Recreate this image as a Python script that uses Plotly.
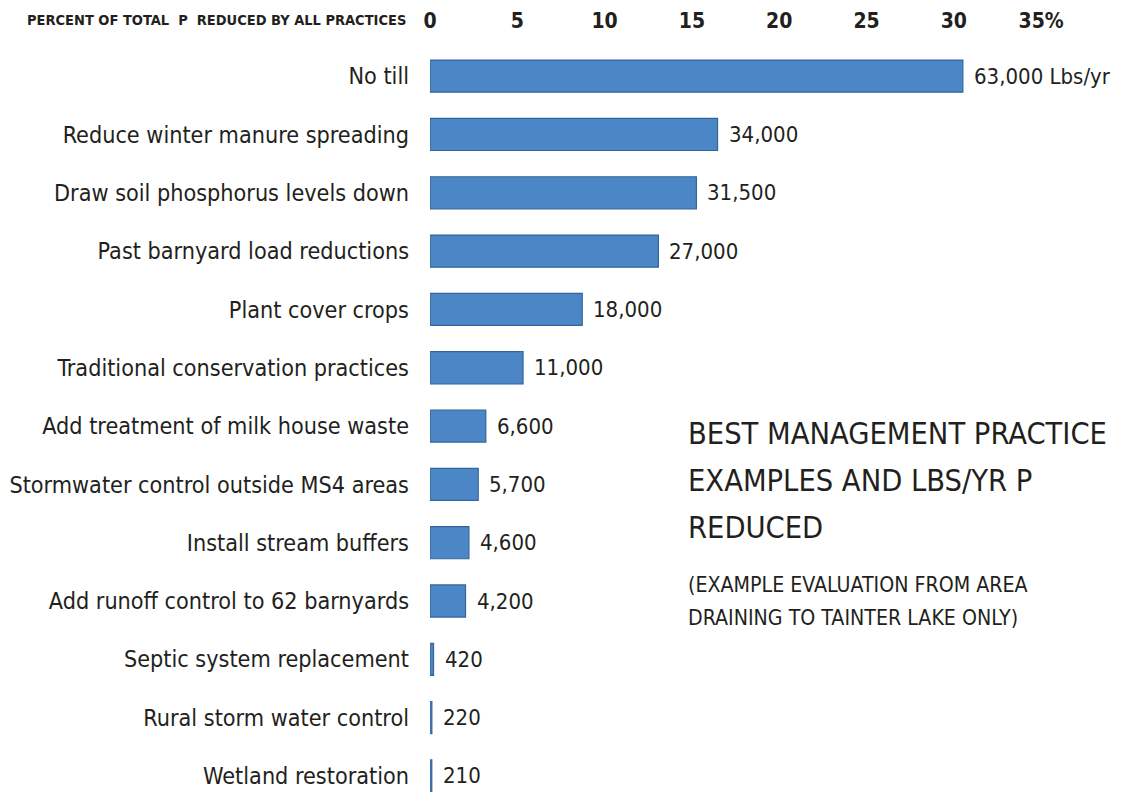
import plotly.graph_objects as go

practices = [
    "No till",
    "Reduce winter manure spreading",
    "Draw soil phosphorus levels down",
    "Past barnyard load reductions",
    "Plant cover crops",
    "Traditional conservation practices",
    "Add treatment of milk house waste",
    "Stormwater control outside MS4 areas",
    "Install stream buffers",
    "Add runoff control to 62 barnyards",
    "Septic system replacement",
    "Rural storm water control",
    "Wetland restoration",
]
lbs_per_yr = [63000, 34000, 31500, 27000, 18000, 11000, 6600, 5700, 4600, 4200, 420, 220, 210]
tick_vals = [0, 5, 10, 15, 20, 25, 30, 35]
tick_text = ["0", "5", "10", "15", "20", "25", "30", "35%"]
title_lines = ["BEST MANAGEMENT PRACTICE", "EXAMPLES AND LBS/YR P", "REDUCED"]
note_lines = ["(EXAMPLE EVALUATION FROM AREA", "DRAINING TO TAINTER LAKE ONLY)"]

total = sum(lbs_per_yr)
percent = [v / total * 100 for v in lbs_per_yr]
labels = [f"{v:,}" for v in lbs_per_yr]
labels[0] = labels[0] + " Lbs/yr"

FONT = "Liberation Sans Narrow, DejaVu Sans Condensed, Roboto Condensed, Arial Narrow, sans-serif"
INK = "#231F20"

fig = go.Figure(go.Bar(
    x=percent,
    y=list(range(len(practices))),
    orientation="h",
    width=0.55,
    marker=dict(color="#4B86C6", line=dict(color="#33659B", width=1.2)),
    cliponaxis=False,
    hoverinfo="x+y",
))

annotations = []
for i, (p, lab) in enumerate(zip(percent, labels)):
    annotations.append(dict(
        x=p, y=i, xref="x", yref="y", text=lab, showarrow=False,
        xanchor="left", yanchor="middle", xshift=9,
        font=dict(family=FONT, size=22, color=INK),
    ))

annotations.append(dict(
    text="PERCENT OF TOTAL  P  REDUCED BY ALL PRACTICES", xref="paper", yref="paper",
    x=0, y=1.0, xshift=-22, yshift=27, xanchor="right", yanchor="middle", showarrow=False,
    font=dict(family=FONT, size=14.5, color=INK, weight="bold"),
))
title_y = [6.12, 6.94, 7.74]
for line, yy in zip(title_lines, title_y):
    annotations.append(dict(
        text=line, xref="x", yref="y", x=14.64, y=yy, xanchor="left", yanchor="middle",
        showarrow=False, font=dict(family=FONT, size=30.5, color=INK),
    ))
note_y = [8.71, 9.29]
for line, yy in zip(note_lines, note_y):
    annotations.append(dict(
        text=line, xref="x", yref="y", x=14.64, y=yy, xanchor="left", yanchor="middle",
        showarrow=False, font=dict(family=FONT, size=21.2, color=INK),
    ))

# The page body has an 8px default margin, so the figure is sized to fill the
# rest of the 1123x792 window.
fig.update_layout(
    width=1115, height=784,
    margin=dict(l=422, r=12, t=39, b=0),
    plot_bgcolor="white", paper_bgcolor="white",
    showlegend=False,
    font=dict(family=FONT, color=INK),
    xaxis=dict(
        side="top", range=[0, 39], tickvals=tick_vals, ticktext=tick_text,
        showgrid=False, zeroline=False, showline=False, ticks="",
        tickfont=dict(family=FONT, size=21, color=INK, weight="bold"),
        ticklabelstandoff=14, automargin=False,
    ),
    yaxis=dict(
        range=[12.275, -0.5], tickvals=list(range(len(practices))), ticktext=practices,
        showgrid=False, zeroline=False, showline=False, ticks="",
        tickfont=dict(family=FONT, size=23.2, color=INK),
        ticklabelstandoff=20, automargin=False,
    ),
    annotations=annotations,
)

fig.write_html("out.html")
